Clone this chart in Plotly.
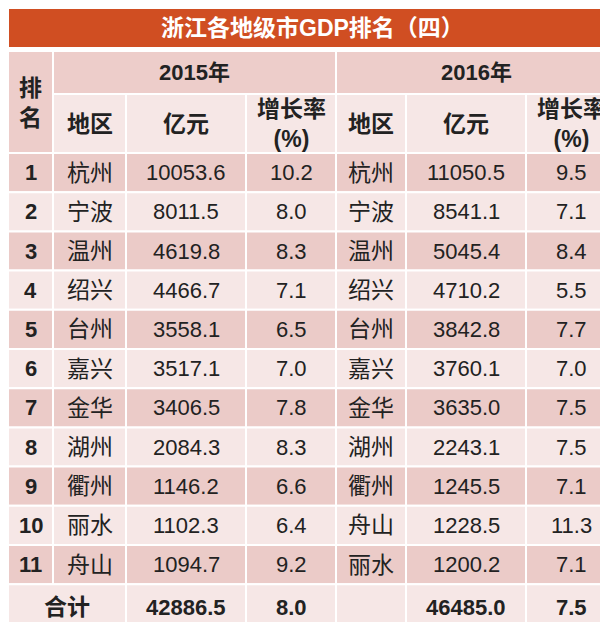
import plotly.graph_objects as go

title = "浙江各地级市GDP排名（四）"
ranks = [str(i) for i in range(1, 12)]
city_2015 = ["杭州", "宁波", "温州", "绍兴", "台州", "嘉兴", "金华", "湖州", "衢州", "丽水", "舟山"]
gdp_2015 = ["10053.6", "8011.5", "4619.8", "4466.7", "3558.1", "3517.1", "3406.5", "2084.3", "1146.2", "1102.3", "1094.7"]
rate_2015 = ["10.2", "8.0", "8.3", "7.1", "6.5", "7.0", "7.8", "8.3", "6.6", "6.4", "9.2"]
city_2016 = ["杭州", "宁波", "温州", "绍兴", "台州", "嘉兴", "金华", "湖州", "衢州", "舟山", "丽水"]
gdp_2016 = ["11050.5", "8541.1", "5045.4", "4710.2", "3842.8", "3760.1", "3635.0", "2243.1", "1245.5", "1228.5", "1200.2"]
rate_2016 = ["9.5", "7.1", "8.4", "5.5", "7.7", "7.0", "7.5", "7.5", "7.1", "11.3", "7.1"]
total_2015 = ["42886.5", "8.0"]
total_2016 = ["46485.0", "7.5"]

# column edges (px) and row edges
xs = [0, 45, 118, 238, 328, 398, 518, 608]
y_title = (0, 40)
y_h1 = (43, 86)
y_h2 = (86, 145)
row_h = 39.2
y0 = 145

FONT = "Liberation Sans, Noto Sans CJK SC"
DARK = "#EBCBC8"
LIGHT = "#F6E7E6"
HEAD = "#EDCDCA"
RED = "#D04E22"

shapes = []
ann = []


def cell(x0, x1, ya, yb, color):
    shapes.append(dict(type="rect", x0=x0, x1=x1, y0=ya, y1=yb, fillcolor=color,
                       line=dict(color="white", width=2), layer="below"))


def txt(x, y, s, size=22, bold=False, color="#222"):
    ann.append(dict(x=x, y=y, text="<b>%s</b>" % s if bold else s, showarrow=False,
                    font=dict(size=size, color=color, family=FONT), xanchor="center", yanchor="middle"))


cell(0, 608, y_title[0], y_title[1], RED)
txt(304, 20, title, size=23, bold=True, color="white")

# header
cell(xs[0], xs[1], y_h1[0], y_h2[1], HEAD)
txt(22, 95, "排<br>名", size=23, bold=True)
cell(xs[1], xs[4], y_h1[0], y_h1[1], HEAD)
cell(xs[4], xs[7], y_h1[0], y_h1[1], HEAD)
txt((xs[1] + xs[4]) / 2, 64, "2015年", bold=True)
txt((xs[4] + xs[7]) / 2, 64, "2016年", bold=True)
sub = ["地区", "亿元", "增长率<br>(%)"] * 2
for i in range(6):
    cell(xs[i + 1], xs[i + 2], y_h2[0], y_h2[1], LIGHT)
    txt((xs[i + 1] + xs[i + 2]) / 2, 116, sub[i], size=23, bold=True)

# data rows
for r in range(11):
    ya = y0 + r * row_h
    yb = ya + row_h
    col = DARK if r % 2 == 0 else LIGHT
    vals = [ranks[r], city_2015[r], gdp_2015[r], rate_2015[r], city_2016[r], gdp_2016[r], rate_2016[r]]
    for c in range(7):
        cell(xs[c], xs[c + 1], ya, yb, col)
        txt((xs[c] + xs[c + 1]) / 2, (ya + yb) / 2, vals[c], size=23 if c in (1, 4) else 22, bold=(c == 0))

# total row
ya = y0 + 11 * row_h
yb = 622
cell(xs[0], xs[2], ya, yb, LIGHT)
txt((xs[0] + xs[2]) / 2, (ya + yb) / 2, "合计", size=23, bold=True)
tv = total_2015 + [""] + total_2016
for c in range(2, 7):
    cell(xs[c], xs[c + 1], ya, yb, LIGHT)
    txt((xs[c] + xs[c + 1]) / 2, (ya + yb) / 2, tv[c - 2], bold=True)

fig = go.Figure()
fig.update_layout(width=608, height=622, margin=dict(l=0, r=0, t=0, b=0),
                  paper_bgcolor="white", plot_bgcolor="white",
                  shapes=shapes, annotations=ann, showlegend=False,
                  xaxis=dict(range=[0, 608], visible=False, fixedrange=True),
                  yaxis=dict(range=[622, 0], visible=False, fixedrange=True))
fig.write_html("out.html")
